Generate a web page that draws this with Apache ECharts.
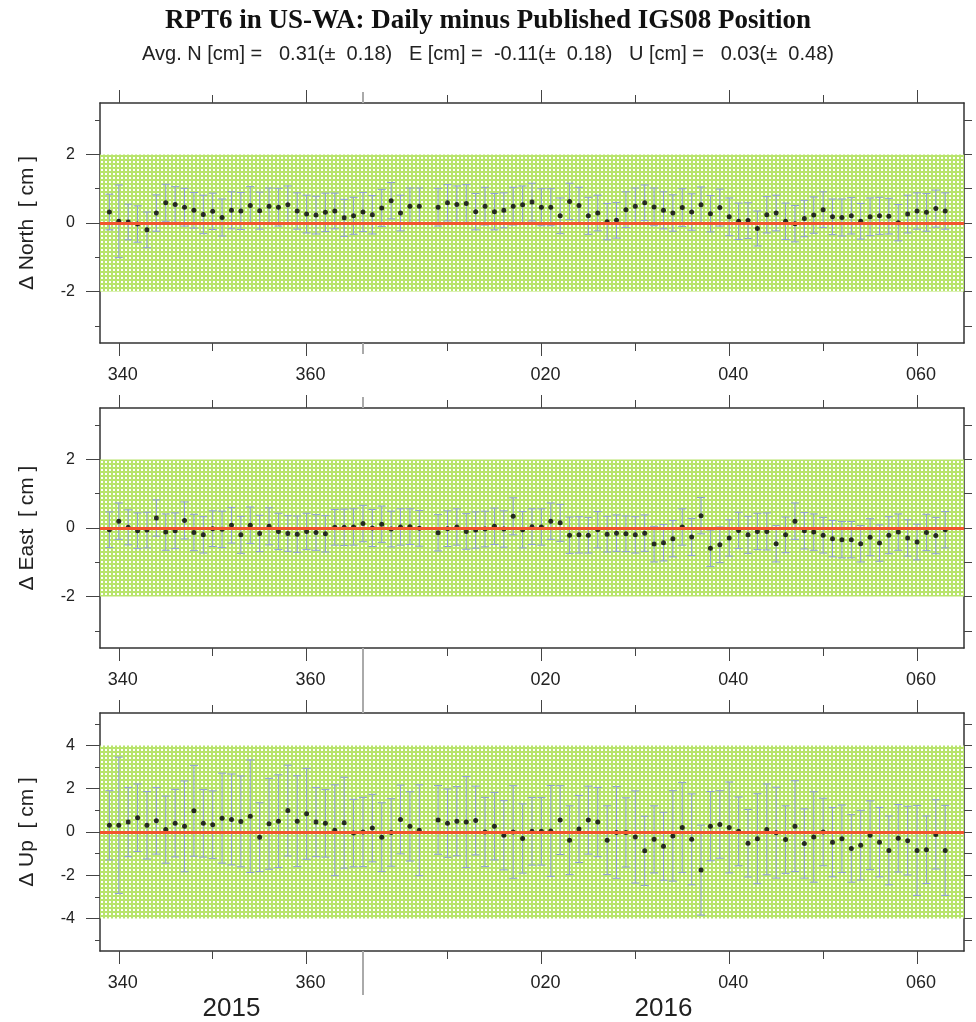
<!DOCTYPE html>
<html><head><meta charset="utf-8">
<script src="https://cdn.jsdelivr.net/npm/echarts@6/dist/echarts.min.js"></script>
<style>html,body{margin:0;padding:0;background:#fff}#c{width:976px;height:1022px}</style>
</head><body><div id="c"></div>
<script>
// ---- data ----
const titleText = 'RPT6 in US-WA: Daily minus Published IGS08 Position';
const subtitleText = 'Avg. N [cm] =   0.31(±  0.18)   E [cm] =  -0.11(±  0.18)   U [cm] =   0.03(±  0.48)';
const panelNames = ['\u0394 North  [ cm ]', '\u0394 East  [ cm ]', '\u0394 Up  [ cm ]'];
// day index: 2015 DOY, continuing as 365 + 2016 DOY
const days = [339,340,341,342,343,344,345,346,347,348,349,350,351,352,353,354,355,356,357,358,359,360,361,362,363,364,365,366,367,368,369,370,371,372,
  374,375,376,377,378,379,380,381,382,383,384,385,386,387,388,389,390,391,392,393,394,395,396,397,398,399,400,401,402,403,404,405,406,407,408,409,410,411,412,413,414,415,416,417,418,419,420,421,422,423,424,425,426,427,428];
const north = [0.32,0.05,0.03,-0.03,-0.2,0.29,0.59,0.54,0.46,0.37,0.25,0.34,0.16,0.37,0.35,0.51,0.36,0.49,0.46,0.53,0.35,0.26,0.23,0.31,0.35,0.15,0.21,0.32,0.24,0.44,0.65,0.29,0.49,0.49,
  0.46,0.59,0.54,0.57,0.33,0.49,0.33,0.37,0.49,0.53,0.61,0.46,0.46,0.21,0.63,0.51,0.21,0.29,0.04,0.08,0.39,0.49,0.59,0.47,0.37,0.29,0.45,0.32,0.53,0.27,0.45,0.18,0.05,0.07,-0.16,0.24,0.29,0.05,-0.02,0.13,0.23,0.39,0.18,0.16,0.21,0.05,0.18,0.21,0.2,0.01,0.26,0.35,0.31,0.42,0.35];
const northErr = [0.52,1.06,0.52,0.53,0.52,0.53,0.54,0.52,0.55,0.52,0.56,0.53,0.54,0.54,0.54,0.55,0.54,0.53,0.55,0.55,0.53,0.55,0.55,0.56,0.52,0.54,0.54,0.57,0.56,0.54,0.53,0.52,0.53,0.53,
  0.55,0.53,0.54,0.55,0.53,0.55,0.53,0.51,0.55,0.55,0.55,0.54,0.54,0.52,0.53,0.53,0.54,0.52,0.53,0.52,0.52,0.53,0.52,0.55,0.54,0.53,0.55,0.53,0.52,0.53,0.54,0.55,0.53,0.52,0.51,0.53,0.52,0.53,0.53,0.53,0.53,0.52,0.52,0.54,0.53,0.52,0.55,0.54,0.52,0.53,0.55,0.53,0.55,0.54,0.53];
const east = [-0.05,0.2,0.02,-0.08,-0.06,0.29,-0.12,-0.08,0.22,-0.13,-0.2,-0.02,-0.04,0.08,-0.2,0.08,-0.16,0.05,-0.1,-0.16,-0.18,-0.1,-0.13,-0.17,0.02,0.02,0.03,0.13,0.0,0.11,-0.03,0.03,0.04,-0.01,
  -0.14,-0.02,0.03,-0.1,-0.06,-0.03,0.05,-0.03,0.34,-0.05,0.04,0.03,0.2,0.15,-0.21,-0.2,-0.21,-0.05,-0.18,-0.15,-0.17,-0.2,-0.15,-0.47,-0.43,-0.31,0.03,-0.26,0.36,-0.59,-0.49,-0.29,-0.07,-0.2,-0.1,-0.1,-0.46,-0.2,0.2,-0.08,-0.12,-0.21,-0.31,-0.34,-0.34,-0.46,-0.27,-0.44,-0.21,-0.12,-0.29,-0.41,-0.13,-0.22,-0.05];
const eastErr = [0.52,0.53,0.51,0.52,0.52,0.53,0.53,0.52,0.54,0.53,0.53,0.52,0.53,0.52,0.54,0.53,0.53,0.54,0.53,0.52,0.53,0.53,0.52,0.53,0.52,0.53,0.53,0.53,0.54,0.53,0.52,0.53,0.52,0.52,
  0.53,0.52,0.53,0.52,0.53,0.52,0.53,0.53,0.54,0.53,0.52,0.53,0.53,0.54,0.53,0.53,0.52,0.53,0.52,0.53,0.52,0.53,0.53,0.52,0.53,0.53,0.53,0.54,0.53,0.53,0.52,0.53,0.53,0.54,0.53,0.54,0.53,0.52,0.53,0.53,0.53,0.52,0.53,0.53,0.53,0.53,0.54,0.53,0.54,0.53,0.53,0.52,0.53,0.53,0.53];
const up = [0.31,0.31,0.46,0.66,0.31,0.52,0.11,0.41,0.26,0.98,0.4,0.34,0.64,0.58,0.49,0.73,-0.24,0.38,0.5,0.99,0.5,0.84,0.46,0.4,0.08,0.43,-0.05,0.0,0.18,-0.24,-0.02,0.58,0.26,0.08,
  0.56,0.41,0.5,0.46,0.53,0.0,0.27,-0.15,0.0,-0.3,0.03,0.03,0.05,0.55,-0.38,0.14,0.55,0.46,-0.38,-0.02,-0.02,-0.23,-0.87,-0.34,-0.66,-0.18,0.21,-0.34,-1.76,0.27,0.35,0.21,0.03,-0.52,-0.31,0.12,-0.03,-0.35,0.27,-0.53,-0.23,0.0,-0.47,-0.31,-0.76,-0.61,-0.15,-0.47,-0.85,-0.29,-0.4,-0.85,-0.82,-0.11,-0.85];
const upErr = [1.6,3.15,1.6,1.56,1.56,1.54,1.55,1.56,2.1,2.1,1.56,1.56,2.08,2.1,2.1,2.6,1.59,2.1,2.14,2.1,2.1,2.1,1.6,1.56,2.1,2.1,1.56,1.6,1.56,1.59,1.56,1.59,1.6,2.1,
  1.59,1.58,1.6,2.1,1.59,1.6,1.56,1.6,2.14,1.6,1.56,1.56,2.1,1.59,1.59,1.55,1.57,1.6,1.59,2.12,1.6,2.13,1.6,1.55,1.57,2.09,2.08,2.1,2.08,1.6,1.56,2.1,1.59,1.56,2.08,2.1,2.1,1.56,2.1,1.6,2.09,1.56,1.6,1.56,1.56,1.61,1.59,1.6,1.59,1.56,1.59,2.08,1.56,1.6,2.08];
const xMajorTicks = [340, 360, 385, 405, 425];
const xMinorTicks = [350, 375, 395, 415];
const yearBoundary = [366];
const yearLabelPos = [352, 398];
const yearLabels = ['2015', '2016'];
const bandLimits = [2, 2, 4];
const yRanges = [3.5, 3.5, 5.5];
const yLabeled = [[-2,0,2], [-2,0,2], [-4,-2,0,2,4]];
const yMinor = [[-3,-1,1,3], [-3,-1,1,3], [-5,-3,-1,1,3,5]];
const yAll = [[-3,-2,-1,0,1,2,3], [-3,-2,-1,0,1,2,3], [-5,-4,-3,-2,-1,0,1,2,3,4,5]];

// ---- styling / layout ----
const gridTops = [103, 408, 713];
const gridH = 240;
const frameColor = '#333';
const sans = 'Liberation Sans';
const yearTickTop = [11, 11, 23];
const yearTickBottom = [11, 42, 44];

function doyLabel(v) { return v <= 365 ? String(v) : String(v - 365).padStart(3, '0'); }

// dotted green pattern
const pc = document.createElement('canvas');
pc.width = 4; pc.height = 4;
const pctx = pc.getContext('2d');
pctx.fillStyle = '#b8e46c'; pctx.fillRect(0, 0, 4, 4);
pctx.fillStyle = '#ffffff'; pctx.fillRect(1, 1, 2, 2);

const grids = [], xAxes = [], yAxes = [], series = [];
const valueSets = [[north, northErr], [east, eastErr], [up, upErr]];

function line(show, width) { return { show: show, onZero: false, lineStyle: { color: frameColor, width: width || 1.5 } }; }

for (let k = 0; k < 3; k++) {
  grids.push({ left: 100, right: 12, top: gridTops[k], height: gridH, show: false });
  const xb = { type: 'value', gridIndex: k, min: 338, max: 430, splitLine: { show: false } };
  const xi = xAxes.length;
  xAxes.push(Object.assign({}, xb, { position: 'bottom', axisLine: line(true),
    axisTick: { show: true, customValues: xMajorTicks, length: 13, lineStyle: { color: '#444', width: 1 } },
    axisLabel: { show: true, customValues: xMajorTicks, formatter: doyLabel, margin: 23, fontSize: 18, color: '#222', fontFamily: sans, padding: [0, 0, 0, 8] } }));
  xAxes.push(Object.assign({}, xb, { position: 'bottom', axisLine: line(false),
    axisTick: { show: true, customValues: xMinorTicks, length: 8, lineStyle: { color: '#444', width: 1 } }, axisLabel: { show: false } }));
  xAxes.push(Object.assign({}, xb, { position: 'top', axisLine: line(true),
    axisTick: { show: true, customValues: xMajorTicks, length: 13, lineStyle: { color: '#444', width: 1 } }, axisLabel: { show: false } }));
  xAxes.push(Object.assign({}, xb, { position: 'top', axisLine: line(false),
    axisTick: { show: true, customValues: xMinorTicks, length: 8, lineStyle: { color: '#444', width: 1 } }, axisLabel: { show: false } }));
  xAxes.push(Object.assign({}, xb, { position: 'bottom', axisLine: line(false),
    axisTick: { show: true, customValues: yearBoundary, length: yearTickBottom[k], lineStyle: { color: '#aaa', width: 2 } }, axisLabel: { show: false } }));
  xAxes.push(Object.assign({}, xb, { position: 'top', axisLine: line(false),
    axisTick: { show: true, customValues: yearBoundary, length: yearTickTop[k], lineStyle: { color: '#aaa', width: 2 } }, axisLabel: { show: false } }));
  if (k === 2) {
    xAxes.push(Object.assign({}, xb, { position: 'bottom', axisLine: line(false), axisTick: { show: false },
      axisLabel: { show: true, customValues: yearLabelPos, formatter: v => yearLabels[yearLabelPos.indexOf(v)], margin: 45, fontSize: 26, color: '#222', fontFamily: sans } }));
  }
  const R = yRanges[k];
  const yb = { type: 'value', gridIndex: k, min: -R, max: R, splitLine: { show: false } };
  const yi = yAxes.length;
  yAxes.push(Object.assign({}, yb, { position: 'left',
    name: panelNames[k], nameLocation: 'middle', nameGap: 62,
    nameTextStyle: { fontSize: 21, color: '#222', fontFamily: sans },
    axisLine: line(true),
    axisTick: { show: true, customValues: yLabeled[k], length: 14, lineStyle: { color: '#444', width: 1 } },
    axisLabel: { show: true, customValues: yLabeled[k], margin: 25, fontSize: 16, color: '#222', fontFamily: sans } }));
  yAxes.push(Object.assign({}, yb, { position: 'left', axisLine: line(false),
    axisTick: { show: true, customValues: yMinor[k], length: 5, lineStyle: { color: '#444', width: 1 } }, axisLabel: { show: false } }));
  yAxes.push(Object.assign({}, yb, { position: 'right', axisLine: line(true),
    axisTick: { show: true, customValues: yAll[k], length: 8, lineStyle: { color: '#444', width: 1 } }, axisLabel: { show: false } }));

  const [vals, errs] = valueSets[k];
  const pts = days.map((d, i) => [d, vals[i], errs[i]]);
  const B = bandLimits[k];
  // band
  series.push({ type: 'line', xAxisIndex: xi, yAxisIndex: yi, data: pts.map(p => [p[0], p[1]]), showSymbol: false,
    lineStyle: { opacity: 0 }, silent: true, z: 1,
    markArea: { silent: true, itemStyle: { color: { image: pc, repeat: 'repeat' } }, data: [[{ yAxis: -B }, { yAxis: B }]] } });
  // error bars
  series.push({ type: 'custom', xAxisIndex: xi, yAxisIndex: yi, data: pts, z: 2, silent: true,
    renderItem: function (params, api) {
      const x = api.value(0), y = api.value(1), e = api.value(2);
      const t = api.coord([x, y + e]), b = api.coord([x, y - e]);
      const hw = 4, st = { stroke: '#8f9fd6', lineWidth: 1 };
      return { type: 'group', children: [
        { type: 'line', shape: { x1: t[0], y1: t[1], x2: b[0], y2: b[1] }, style: st },
        { type: 'line', shape: { x1: t[0] - hw, y1: t[1], x2: t[0] + hw, y2: t[1] }, style: st },
        { type: 'line', shape: { x1: b[0] - hw, y1: b[1], x2: b[0] + hw, y2: b[1] }, style: st } ] };
    } });
  // zero line
  series.push({ type: 'line', xAxisIndex: xi, yAxisIndex: yi, data: pts.map(p => [p[0], p[1]]), showSymbol: false,
    lineStyle: { opacity: 0 }, silent: true, z: 3,
    markLine: { silent: true, symbol: 'none', label: { show: false }, lineStyle: { color: '#f2552c', width: 3, type: 'solid' }, data: [{ yAxis: 0 }] } });
  // points
  series.push({ type: 'scatter', xAxisIndex: xi, yAxisIndex: yi, data: pts.map(p => [p[0], p[1]]), symbolSize: 5,
    itemStyle: { color: '#000' }, z: 4, silent: true });
}

const chart = echarts.init(document.getElementById('c'), null, { renderer: 'canvas' });
chart.setOption({
  animation: false,
  backgroundColor: '#fff',
  title: [
    { text: titleText, left: 'center', top: 3, textStyle: { fontFamily: 'Liberation Serif', fontWeight: 'bold', fontSize: 27, color: '#111' } },
    { text: subtitleText, left: 'center', top: 39, textStyle: { fontFamily: sans, fontWeight: 'normal', fontSize: 20, color: '#222' } }
  ],
  grid: grids, xAxis: xAxes, yAxis: yAxes, series: series
});
</script></body></html>
